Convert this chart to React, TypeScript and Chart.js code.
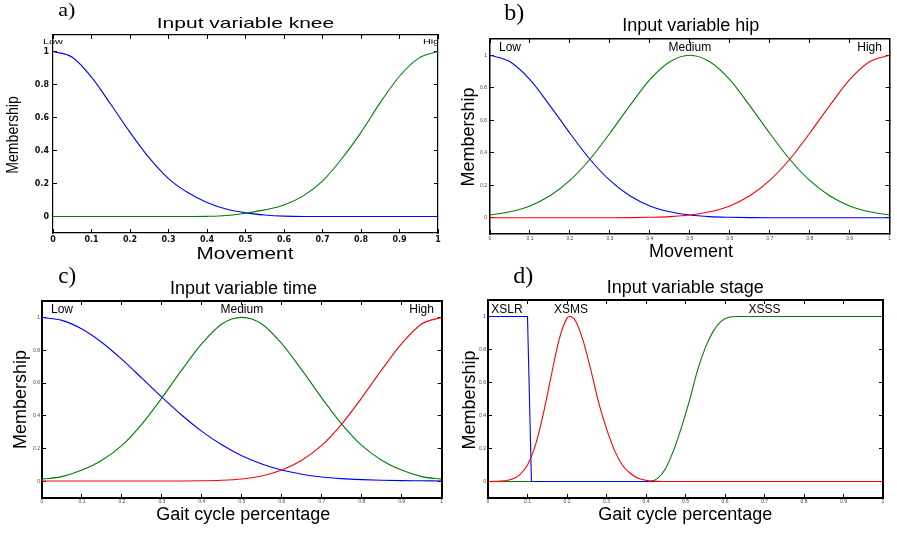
import React, { useEffect, useRef } from 'react';
import { Chart, registerables } from 'chart.js';
Chart.register(...registerables);

// ---------- shared axis data ----------
const X_GRID = [0, 0.05, 0.1, 0.15, 0.2, 0.25, 0.3, 0.35, 0.4, 0.45, 0.5, 0.55, 0.6, 0.65, 0.7, 0.75, 0.8, 0.85, 0.9, 0.95, 1];
const X_TICKS = [0, 0.1, 0.2, 0.3, 0.4, 0.5, 0.6, 0.7, 0.8, 0.9, 1];
const X_TICK_LABELS = ['0', '0.1', '0.2', '0.3', '0.4', '0.5', '0.6', '0.7', '0.8', '0.9', '1'];
const Y_TICKS = [0, 0.2, 0.4, 0.6, 0.8, 1];
const Y_TICK_LABELS = ['0', '0.2', '0.4', '0.6', '0.8', '1'];

// ---------- a) knee ----------
const KNEE_LOW = [1.0, 0.965, 0.845, 0.68, 0.51, 0.355, 0.23, 0.145, 0.085, 0.045, 0.022, 0.009, 0.002, 0, 0, 0, 0, 0, 0, 0, 0];
const KNEE_HIGH = [0, 0, 0, 0, 0, 0, 0, 0, 0.001, 0.006, 0.02, 0.04, 0.07, 0.125, 0.215, 0.35, 0.51, 0.69, 0.85, 0.96, 1.0];

// ---------- b) hip ----------
const HIP_LOW = [1.0, 0.96, 0.85, 0.69, 0.52, 0.36, 0.23, 0.135, 0.073, 0.037, 0.017, 0.007, 0.003, 0.001, 0, 0, 0, 0, 0, 0, 0];
const HIP_MEDIUM = [0.017, 0.037, 0.073, 0.135, 0.23, 0.36, 0.52, 0.69, 0.85, 0.96, 1.0, 0.96, 0.85, 0.69, 0.52, 0.36, 0.23, 0.135, 0.073, 0.037, 0.017];
const HIP_HIGH = [0, 0, 0, 0, 0, 0, 0, 0.001, 0.003, 0.007, 0.017, 0.037, 0.073, 0.135, 0.23, 0.36, 0.52, 0.69, 0.85, 0.96, 1.0];

// ---------- c) time ----------
const TIME_LOW = [1.0, 0.982, 0.929, 0.847, 0.744, 0.63, 0.514, 0.404, 0.306, 0.224, 0.157, 0.107, 0.07, 0.045, 0.028, 0.018, 0.012, 0.008, 0.006, 0.005, 0.004];
const TIME_MEDIUM = [0.015, 0.03, 0.07, 0.13, 0.22, 0.35, 0.51, 0.68, 0.84, 0.96, 1.0, 0.96, 0.84, 0.68, 0.51, 0.35, 0.22, 0.13, 0.07, 0.03, 0.015];
const TIME_HIGH = [0.004, 0.004, 0.004, 0.004, 0.004, 0.004, 0.004, 0.004, 0.005, 0.008, 0.016, 0.034, 0.07, 0.13, 0.22, 0.35, 0.51, 0.68, 0.84, 0.96, 1.0];

// ---------- d) stage ----------
const XSLR_X = [0, 0.1, 0.11, 1];
const XSLR_Y = [1, 1, 0, 0];
const XSMS_X = [0, 0.02, 0.04, 0.06, 0.08, 0.1, 0.12, 0.14, 0.16, 0.18, 0.2, 0.207, 0.22, 0.24, 0.26, 0.28, 0.3, 0.32, 0.34, 0.36, 0.38, 0.4, 0.42, 0.44, 1];
const XSMS_Y = [0, 0.001, 0.004, 0.013, 0.04, 0.1, 0.22, 0.41, 0.64, 0.86, 0.99, 1.0, 0.98, 0.86, 0.68, 0.48, 0.32, 0.19, 0.1, 0.05, 0.02, 0.007, 0.002, 0, 0];
const XSSS_X = [0, 0.41, 0.43, 0.45, 0.47, 0.49, 0.51, 0.53, 0.55, 0.57, 0.59, 0.61, 0.63, 1];
const XSSS_Y = [0, 0, 0.02, 0.08, 0.19, 0.33, 0.49, 0.67, 0.81, 0.91, 0.97, 0.995, 1, 1];

const BLUE = '#0000ff';
const GREEN = '#008000';
const RED = '#ff0000';

type TextItem = {
  text: string; x?: number; dataX?: number; y: number; font: string;
  align?: CanvasTextAlign; rotate?: number; sx?: number; sy?: number; clip?: boolean; color?: string;
};
type Series = { xs: number[]; ys: number[]; color: string; smooth: boolean; order: number };
type PanelDef = {
  left: number; top: number; width: number; height: number;
  padL: number; padR: number; padT: number; padB: number;
  bw: number; tickFont: any; tickColor: string; xPad: number; yPad: number;
  series: Series[]; texts: TextItem[];
};

const SANS = '"Liberation Sans", Arial, sans-serif';
const SERIF = '"Liberation Serif", "Times New Roman", serif';
const UP = -Math.PI / 2;

function makeTextPlugin(items: TextItem[]) {
  return {
    id: 'panelText',
    afterDraw(chart: any) {
      const ctx = chart.ctx as CanvasRenderingContext2D;
      const area = chart.chartArea;
      for (const t of items) {
        ctx.save();
        if (t.clip) {
          ctx.beginPath();
          ctx.rect(0, 0, area.right, chart.height);
          ctx.clip();
        }
        const x = t.dataX !== undefined ? chart.scales.x.getPixelForValue(t.dataX) : (t.x as number);
        ctx.translate(x, t.y);
        if (t.rotate) ctx.rotate(t.rotate);
        ctx.scale(t.sx ?? 1, t.sy ?? 1);
        ctx.font = t.font;
        ctx.fillStyle = t.color ?? '#000';
        ctx.textAlign = t.align ?? 'center';
        ctx.textBaseline = 'alphabetic';
        ctx.fillText(t.text, 0, 0);
        ctx.restore();
      }
    },
  };
}

const SMALL_TICK = { family: 'Liberation Sans', size: 5 };

const PANELS: PanelDef[] = [
  {
    left: 0, top: 0, width: 448, height: 260,
    padL: 53, padR: 10, padT: 35, padB: 27,
    bw: 1.2, tickFont: { family: 'DejaVu Sans', size: 8, weight: 'bold' }, tickColor: '#111', xPad: 6, yPad: 8,
    series: [
      { xs: X_GRID, ys: KNEE_LOW, color: BLUE, smooth: true, order: 1 },
      { xs: X_GRID, ys: KNEE_HIGH, color: GREEN, smooth: true, order: 0 },
    ],
    texts: [
      { text: 'a)', x: 58.3, y: 16, font: `22px ${SERIF}`, align: 'left', sy: 0.82 },
      { text: 'Input variable knee', x: 245.5, y: 28.3, font: `15px ${SANS}`, sx: 1.4 },
      { text: 'Membership', x: 17.5, y: 135, font: `16px ${SANS}`, rotate: UP, sx: 0.88 },
      { text: 'Movement', x: 245, y: 258.5, font: `17px ${SANS}`, sx: 1.22 },
      { text: 'Low', dataX: 0, y: 44.3, font: `8px ${SANS}`, sx: 1.35 },
      { text: 'High', dataX: 0.99, y: 44.3, font: `8px ${SANS}`, sx: 1.35, clip: true },
    ],
  },
  {
    left: 448, top: 0, width: 449, height: 260,
    padL: 42, padR: 4, padT: 39, padB: 26,
    bw: 1.5, tickFont: SMALL_TICK, tickColor: '#444', xPad: 6, yPad: 7,
    series: [
      { xs: X_GRID, ys: HIP_LOW, color: BLUE, smooth: true, order: 2 },
      { xs: X_GRID, ys: HIP_MEDIUM, color: GREEN, smooth: true, order: 1 },
      { xs: X_GRID, ys: HIP_HIGH, color: RED, smooth: true, order: 0 },
    ],
    texts: [
      { text: 'b)', x: 56.3, y: 20, font: `24px ${SERIF}`, align: 'left' },
      { text: 'Input variable hip', x: 242.8, y: 30.7, font: `18px ${SANS}` },
      { text: 'Membership', x: 26, y: 137, font: `18px ${SANS}`, rotate: UP },
      { text: 'Movement', x: 243, y: 256.7, font: `18px ${SANS}` },
      { text: 'Low', dataX: 0.05, y: 50.7, font: `12px ${SANS}` },
      { text: 'Medium', dataX: 0.5, y: 50.7, font: `12px ${SANS}` },
      { text: 'High', dataX: 0.95, y: 50.7, font: `12px ${SANS}` },
    ],
  },
  {
    left: 0, top: 260, width: 448, height: 273,
    padL: 42, padR: 2, padT: 41, padB: 35,
    bw: 2, tickFont: SMALL_TICK, tickColor: '#444', xPad: 5, yPad: 6,
    series: [
      { xs: X_GRID, ys: TIME_LOW, color: BLUE, smooth: true, order: 2 },
      { xs: X_GRID, ys: TIME_MEDIUM, color: GREEN, smooth: true, order: 1 },
      { xs: X_GRID, ys: TIME_HIGH, color: RED, smooth: true, order: 0 },
    ],
    texts: [
      { text: 'c)', x: 58.3, y: 23.3, font: `23px ${SERIF}`, align: 'left' },
      { text: 'Input variable time', x: 243.5, y: 34.3, font: `18px ${SANS}` },
      { text: 'Membership', x: 26, y: 139.5, font: `18px ${SANS}`, rotate: UP },
      { text: 'Gait cycle percentage', x: 243.3, y: 260, font: `18px ${SANS}` },
      { text: 'Low', dataX: 0.05, y: 53.3, font: `12px ${SANS}` },
      { text: 'Medium', dataX: 0.5, y: 53.3, font: `12px ${SANS}` },
      { text: 'High', dataX: 0.95, y: 53.3, font: `12px ${SANS}` },
    ],
  },
  {
    left: 448, top: 260, width: 449, height: 273,
    padL: 40, padR: 14, padT: 40, padB: 35,
    bw: 2, tickFont: SMALL_TICK, tickColor: '#444', xPad: 5, yPad: 6,
    series: [
      { xs: XSLR_X, ys: XSLR_Y, color: BLUE, smooth: false, order: 1 },
      { xs: XSMS_X, ys: XSMS_Y, color: RED, smooth: true, order: 0 },
      { xs: XSSS_X, ys: XSSS_Y, color: GREEN, smooth: true, order: 2 },
    ],
    texts: [
      { text: 'd)', x: 65.3, y: 23.3, font: `24px ${SERIF}`, align: 'left' },
      { text: 'Input variable stage', x: 237.3, y: 33.3, font: `18px ${SANS}` },
      { text: 'Membership', x: 26.6, y: 140, font: `18px ${SANS}`, rotate: UP },
      { text: 'Gait cycle percentage', x: 237.3, y: 260, font: `18px ${SANS}` },
      { text: 'XSLR', dataX: 0.048, y: 52.7, font: `12px ${SANS}` },
      { text: 'XSMS', dataX: 0.21, y: 52.7, font: `12px ${SANS}` },
      { text: 'XSSS', dataX: 0.7, y: 52.7, font: `12px ${SANS}` },
    ],
  },
];

function Panel({ p }: { p: PanelDef }) {
  const ref = useRef<HTMLCanvasElement>(null);
  useEffect(() => {
    const canvas = ref.current;
    if (!canvas) return;
    const grid = { drawOnChartArea: false, drawTicks: true, tickLength: -4, color: '#000', lineWidth: 1 };
    const border = { display: true, color: '#000', width: p.bw };
    const chart = new Chart(canvas, {
      type: 'line',
      data: {
        datasets: p.series.map((s) => ({
          data: s.xs.map((x, i) => ({ x, y: s.ys[i] })),
          borderColor: s.color,
          backgroundColor: s.color,
          borderWidth: 1.1,
          pointRadius: 0,
          fill: false,
          tension: 0,
          order: s.order,
          cubicInterpolationMode: s.smooth ? 'monotone' : 'default',
        })),
      },
      options: {
        animation: false,
        responsive: false,
        maintainAspectRatio: false,
        devicePixelRatio: 1,
        events: [],
        layout: { padding: 0 },
        plugins: { legend: { display: false }, tooltip: { enabled: false }, title: { display: false } },
        scales: {
          x: {
            type: 'linear', position: 'bottom', min: 0, max: 1,
            afterBuildTicks: (s: any) => { s.ticks = X_TICKS.map((v) => ({ value: v })); },
            afterFit: (s: any) => { s.height = p.padB; },
            ticks: {
              autoSkip: false, maxRotation: 0, minRotation: 0, padding: p.xPad,
              font: p.tickFont, color: p.tickColor,
              callback: (_v: any, i: number) => X_TICK_LABELS[i],
            },
            grid, border,
          },
          x2: {
            type: 'linear', position: 'top', min: 0, max: 1,
            afterBuildTicks: (s: any) => { s.ticks = X_TICKS.map((v) => ({ value: v })); },
            afterFit: (s: any) => { s.height = p.padT; },
            ticks: { display: false },
            grid, border,
          },
          y: {
            type: 'linear', position: 'left', min: -0.1, max: 1.1,
            afterBuildTicks: (s: any) => { s.ticks = Y_TICKS.map((v) => ({ value: v })); },
            afterFit: (s: any) => { s.width = p.padL; },
            ticks: {
              autoSkip: false, padding: p.yPad, font: p.tickFont, color: p.tickColor,
              callback: (_v: any, i: number) => Y_TICK_LABELS[i],
            },
            grid, border,
          },
          y2: {
            type: 'linear', position: 'right', min: -0.1, max: 1.1,
            afterBuildTicks: (s: any) => { s.ticks = Y_TICKS.map((v) => ({ value: v })); },
            afterFit: (s: any) => { s.width = p.padR; },
            ticks: { display: false },
            grid, border,
          },
        },
      } as any,
      plugins: [makeTextPlugin(p.texts)],
    });
    return () => chart.destroy();
  }, [p]);
  return (
    <div style={{ position: 'absolute', left: p.left, top: p.top, width: p.width, height: p.height }}>
      <canvas ref={ref} width={p.width} height={p.height} style={{ width: p.width, height: p.height, display: 'block' }} />
    </div>
  );
}

export default function App() {
  return (
    <div style={{ position: 'absolute', left: 0, top: 0, width: 897, height: 533, background: '#fff', overflow: 'hidden' }}>
      {PANELS.map((p, i) => (
        <Panel key={i} p={p} />
      ))}
    </div>
  );
}
